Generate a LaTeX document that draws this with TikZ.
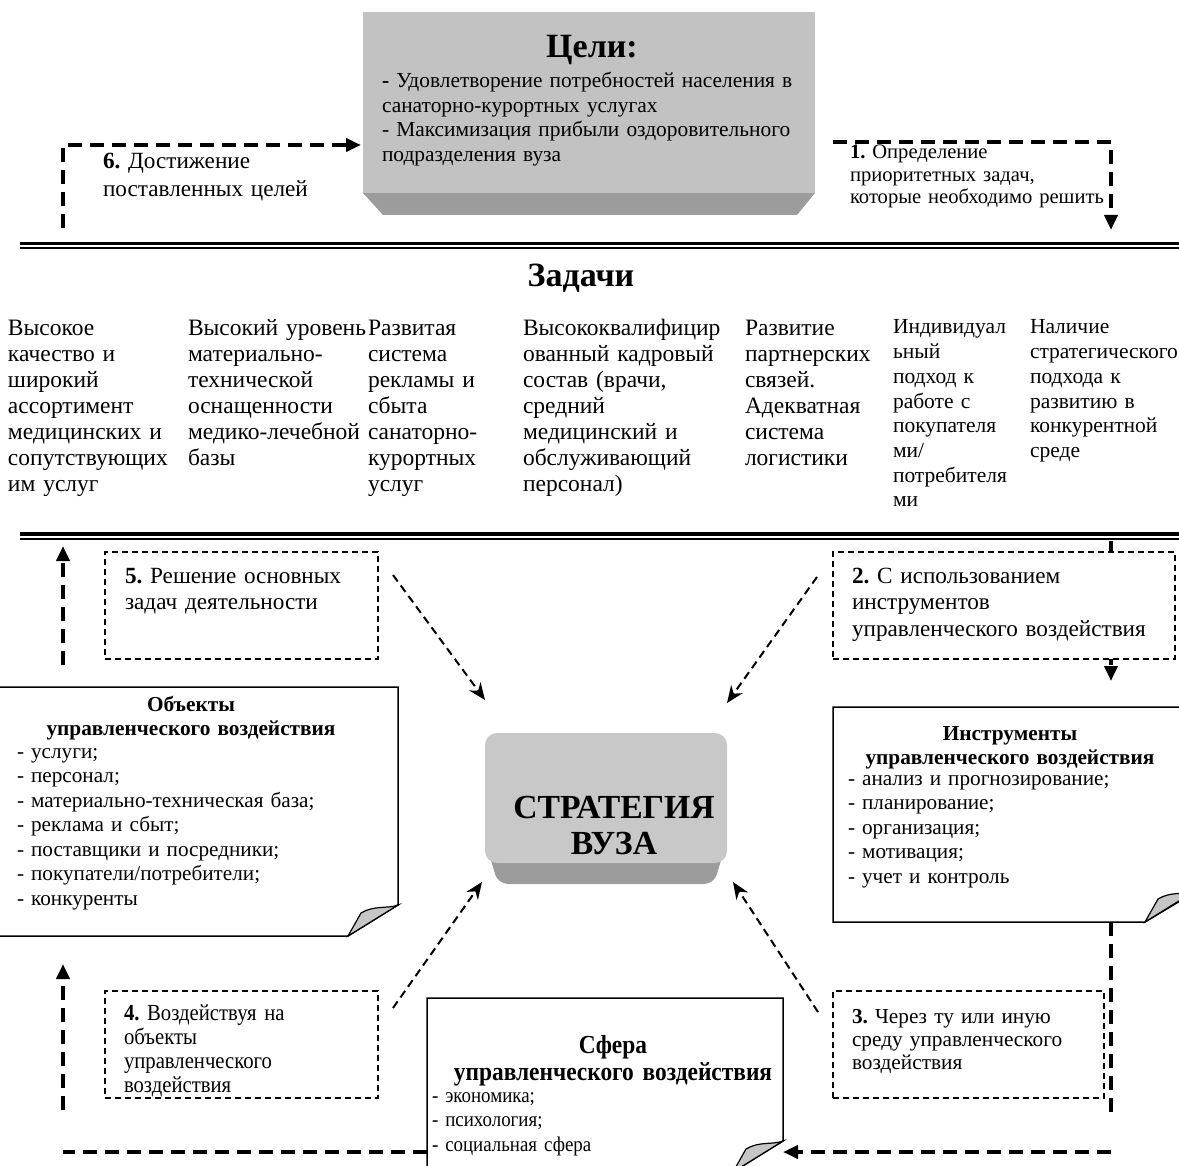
\documentclass[tikz,border=0pt]{standalone}
\usepackage{fontspec}
\setmainfont{Liberation Serif}
\newfontfamily\narrowserif[FakeStretch=0.9]{Liberation Serif}
\usetikzlibrary{arrows.meta}
\pgfdeclarelayer{bg}
\pgfsetlayers{bg,main}
\definecolor{facegray}{HTML}{C2C2C2}
\definecolor{stratgray}{HTML}{C8C8C8}
\definecolor{bevelgray}{HTML}{9C9C9C}
\definecolor{foldgray}{HTML}{C6C6C6}
\frenchspacing
\tikzset{
    every node/.style={inner sep=0pt, outer sep=0pt},
    coltext/.style={anchor=base west, align=left, text width=300pt,
        font=\fontsize{23.5}{26}\selectfont},
    smallcol/.style={coltext, font=\fontsize{21.5}{24.7}\selectfont},
    steptext/.style={anchor=base west, align=left, text width=360pt,
        font=\fontsize{23.2}{26.5}\selectfont},
    listtext/.style={anchor=base west, align=left, text width=360pt,
        font=\fontsize{21.2}{24.5}\selectfont},
    headtext/.style={anchor=base, align=center, text width=360pt,
        font=\bfseries\fontsize{21.3}{24}\selectfont},
    dashbox/.style={draw, fill=white, line width=2pt,
        dash pattern=on 6pt off 4pt, anchor=north west},
    note/.style={draw, fill=white, line width=1.5pt, line join=miter},
    fold/.style={draw, fill=foldgray, line width=1.2pt},
    bigflow/.style={line width=4pt, dash pattern=on 14pt off 8pt,
        -{Triangle[length=15pt,width=13pt]}},
    bigline/.style={line width=4pt, dash pattern=on 14pt off 8pt},
    thinflow/.style={line width=2pt, dash pattern=on 8pt off 5pt,
        -{Stealth[length=17pt,width=14pt]}}
}

\begin{document}
\begin{tikzpicture}[x=1pt, y=-1pt]
  \useasboundingbox (0,0) rectangle (1179,1166);

  % goals
  \begin{pgfonlayer}{bg}
    \fill[bevelgray] (363,193) -- (815,193) -- (797,215) -- (383,215) -- cycle;
  \end{pgfonlayer}
  \node (goals) [fill=facegray, anchor=north west, minimum width=452pt,
      minimum height=181pt] at (363,12) {};
  \node (goalstitle) [anchor=base, font=\bfseries\fontsize{34}{38}\selectfont]
      at (592,58) {Цели:};
  \node (goalslist) [anchor=base west, align=left, text width=440pt,
      font=\fontsize{21.4}{24.5}\selectfont] at (382,88)
      {\textbf{-} Удовлетворение потребностей населения в\\
       санаторно-курортных услугах\\
       - Максимизация прибыли оздоровительного\\
       подразделения вуза};

  \node (lab6) [coltext, font=\fontsize{23.2}{28}\selectfont] at (103,169)
      {\textbf{6.} Достижение\\ поставленных целей};
  \node (lab1) [smallcol, font=\fontsize{20.6}{22.5}\selectfont] at (850,159)
      {\textbf{1.} Определение\\ приоритетных задач,\\ которые необходимо решить};

  \coordinate (s6a) at (63,228);
  \coordinate (s6b) at (361,145);
  \coordinate (s1a) at (833,142);
  \coordinate (s1b) at (1111,230);
  \draw[bigflow] (s6a) |- (s6b);
  \draw[bigflow] (s1a) -| (s1b);

  % tasks
  \draw[line width=3.5pt] (20,243.5) -- (1190,243.5);
  \draw[line width=2pt] (20,248.5) -- (1190,248.5);
  \node (tasks) [anchor=base, font=\bfseries\fontsize{34}{38}\selectfont]
      at (581,287) {Задачи};

  \node (c1) [coltext] at (8,336) {Высокое\\ качество и\\ широкий\\ ассортимент\\
      медицинских и\\ сопутствующих\\ им услуг};
  \node (c2) [coltext] at (188,336) {Высокий уровень\\ материально-\\ технической\\
      оснащенности\\ медико-лечебной\\ базы};
  \node (c3) [coltext] at (368,336) {Развитая\\ система\\ рекламы и\\ сбыта\\
      санаторно-\\ курортных\\ услуг};
  \node (c4) [coltext] at (523,336) {Высококвалифицир\\ ованный кадровый\\
      состав (врачи,\\ средний\\ медицинский и\\ обслуживающий\\ персонал)};
  \node (c5) [coltext] at (745,336) {Развитие\\ партнерских\\ связей.\\
      Адекватная\\ система\\ логистики};
  \node (c6) [smallcol] at (893,334) {Индивидуал\\ ьный\\ подход к\\ работе с\\
      покупателя\\ ми/\\ потребителя\\ ми};
  \node (c7) [smallcol] at (1030,334) {Наличие\\ стратегического\\ подхода к\\
      развитию в\\ конкурентной\\ среде};

  \draw[line width=3.5pt] (20,534) -- (1190,534);
  \draw[line width=2pt] (20,539) -- (1190,539);

  % thick side flows
  \coordinate (s5a) at (63,665);
  \coordinate (s5b) at (63,546);
  \coordinate (s2a) at (1111,541);
  \coordinate (s2b) at (1111,681);
  \coordinate (s3a) at (1111,922);
  \coordinate (s3b) at (1111,1112);
  \coordinate (s3c) at (1111,1152);
  \coordinate (s3d) at (783,1152);
  \coordinate (s4a) at (427,1152);
  \coordinate (s4b) at (63,1152);
  \coordinate (s4c) at (63,1110);
  \coordinate (s4d) at (63,964);
  \draw[bigflow] (s5a) -- (s5b);
  \draw[bigflow] (s2a) -- (s2b);
  \draw[bigline] (s3a) -- (s3b);
  \draw[bigflow] (s3c) -- (s3d);
  \draw[bigline] (s4a) -- (s4b);
  \draw[bigflow] (s4c) -- (s4d);

  % steps
  \node (box5) [dashbox, minimum width=273pt, minimum height=107pt] at (105,552) {};
  \node (lab5) [steptext] at (125,583) {\textbf{5.} Решение основных\\ задач деятельности};
  \node (box2) [dashbox, minimum width=342pt, minimum height=107pt] at (833,552) {};
  \node (lab2) [steptext] at (852,583)
      {\textbf{2.} С использованием\\ инструментов\\ управленческого воздействия};
  \node (box3) [dashbox, minimum width=271pt, minimum height=107pt] at (833,991) {};
  \node (lab3) [listtext, font=\fontsize{21.3}{23}\selectfont] at (852,1023)
      {\textbf{3.} Через ту или иную\\ среду управленческого\\ воздействия};
  \node (box4) [dashbox, minimum width=273pt, minimum height=107pt] at (105,991) {};
  \node (lab4) [listtext, font=\narrowserif\fontsize{23}{24}\selectfont] at (124,1020)
      {\textbf{4.} Воздействуя на\\ объекты\\ управленческого\\ воздействия};

  % objects
  \filldraw[note] (-5,687) -- (398,687) -- (398,905) -- (348,936) -- (-5,936) -- cycle;
  \filldraw[fold] (348,936) -- (361,913) .. controls (374,905) and (388,909) .. (398,905) -- cycle;
  \node (objhead) [headtext] at (191,711) {Объекты\\ управленческого воздействия};
  \node (objlist) [listtext] at (17,758) {- услуги;\\ - персонал;\\
      - материально-техническая база;\\ - реклама и сбыт;\\
      - поставщики и посредники;\\ - покупатели/потребители;\\ - конкуренты};

  % instruments
  \filldraw[note] (833,707) -- (1200,707) -- (1200,889) -- (1145,922) -- (833,922) -- cycle;
  \filldraw[fold] (1145,922) -- (1158,899) .. controls (1171,891) and (1185,895) .. (1195,891) -- cycle;
  \node (insthead) [headtext] at (1010,740) {Инструменты\\ управленческого воздействия};
  \node (instlist) [listtext] at (848,785) {- анализ и прогнозирование;\\
      - планирование;\\ - организация;\\ - мотивация;\\ - учет и контроль};

  % sphere
  \filldraw[note] (427,998) -- (783,998) -- (783,1141) -- (733,1172) -- (427,1172) -- cycle;
  \filldraw[fold] (733,1172) -- (746,1149) .. controls (759,1141) and (773,1145) .. (783,1141) -- cycle;
  \node (sphhead) [headtext, font=\narrowserif\bfseries\fontsize{26}{27}\selectfont]
      at (613,1053) {Сфера\\ управленческого воздействия};
  \node (sphlist) [listtext, font=\narrowserif\fontsize{21}{24.5}\selectfont] at (432,1102)
      {- экономика;\\ - психология;\\ - социальная сфера};

  % strategy
  \begin{pgfonlayer}{bg}
    \fill[bevelgray, rounded corners=10pt] (485,840) -- (727,840) -- (714,884)
        -- (498,884) -- cycle;
  \end{pgfonlayer}
  \node (strategy) [fill=stratgray, rounded corners=12pt, minimum width=242pt,
      minimum height=130pt, anchor=north west] at (485,733) {};
  \node (strattext) [anchor=base, align=center, text width=240pt,
      font=\bfseries\fontsize{33.7}{36}\selectfont] at (614,818) {СТРАТЕГИЯ\\ ВУЗА};

  \coordinate (t5a) at (393,575);
  \coordinate (t5b) at (485,700);
  \coordinate (t2a) at (817,577);
  \coordinate (t2b) at (727,703);
  \coordinate (t4a) at (393,1008);
  \coordinate (t4b) at (482,882);
  \coordinate (t3a) at (818,1012);
  \coordinate (t3b) at (733,882);
  \draw[thinflow] (t5a) -- (t5b);
  \draw[thinflow] (t2a) -- (t2b);
  \draw[thinflow] (t4a) -- (t4b);
  \draw[thinflow] (t3a) -- (t3b);

\end{tikzpicture}
\end{document}
